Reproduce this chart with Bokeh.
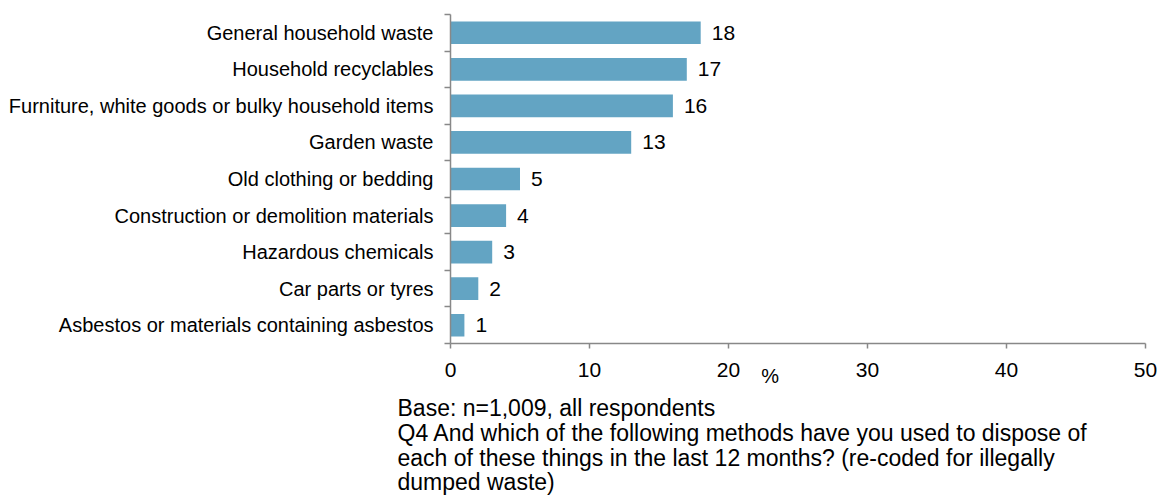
from bokeh.plotting import figure
from bokeh.models import Range1d, FixedTicker, ColumnDataSource, LinearAxis, Title
from bokeh.core.properties import value
from bokeh.embed import file_html
from bokeh.resources import INLINE

categories = [
    "General household waste",
    "Household recyclables",
    "Furniture, white goods or bulky household items",
    "Garden waste",
    "Old clothing or bedding",
    "Construction or demolition materials",
    "Hazardous chemicals",
    "Car parts or tyres",
    "Asbestos or materials containing asbestos",
]
values = [18, 17, 16, 13, 5, 4, 3, 2, 1]
x_ticks = [0, 10, 20, 30, 40, 50]
unit_label = "%"
footnote = [
    "Base: n=1,009, all respondents",
    "Q4 And which of the following methods have you used to dispose of",
    "each of these things in the last 12 months? (re-coded for illegally",
    "dumped waste)",
]

n = len(categories)
ypos = [n - 1 - i + 0.5 for i in range(n)]
src = ColumnDataSource(dict(y=ypos, v=values, lab=[str(v) for v in values]))

FONT = "Liberation Sans, Arial, sans-serif"
AXIS_COLOR = "#888888"

p = figure(width=1161, height=504, output_backend="svg", toolbar_location=None,
           x_range=Range1d(0, 50), y_range=Range1d(0, n),
           min_border_left=450, min_border_right=16, min_border_top=14,
           min_border_bottom=161)
p.outline_line_color = None
p.xgrid.visible = False
p.ygrid.visible = False

p.hbar(y="y", right="v", left=0, height=0.62, source=src,
       fill_color="#63a4c3", line_color=None)
p.text(x="v", y="y", text="lab", source=src, x_offset=11,
       text_baseline="middle", text_align="left",
       text_font=value(FONT), text_font_size="21px", text_color="#000000")

xa = p.xaxis[0]
xa.ticker = FixedTicker(ticks=x_ticks)
xa.axis_line_color = AXIS_COLOR
xa.axis_line_width = 1.5
xa.major_tick_line_color = AXIS_COLOR
xa.major_tick_line_width = 1.5
xa.major_tick_out = 5
xa.major_tick_in = 0
xa.minor_tick_line_color = None
xa.major_label_standoff = 14
xa.major_label_text_font = FONT
xa.major_label_text_font_size = "21px"
xa.major_label_text_color = "#000000"

# unit label "%" as a second, bare axis just under the first one
ua = LinearAxis(ticker=FixedTicker(ticks=[23.0]),
                major_label_overrides={23.0: unit_label})
ua.axis_line_color = None
ua.major_tick_line_color = None
ua.minor_tick_line_color = None
ua.major_tick_out = 0
ua.major_tick_in = 0
ua.major_label_standoff = -15
ua.major_label_text_font = FONT
ua.major_label_text_font_size = "20px"
ua.major_label_text_color = "#000000"
p.add_layout(ua, "below")

ya = p.yaxis[0]
ya.ticker = FixedTicker(ticks=ypos, minor_ticks=list(range(n + 1)))
ya.major_label_overrides = {y: c for y, c in zip(ypos, categories)}
ya.axis_line_color = AXIS_COLOR
ya.axis_line_width = 1.5
ya.major_tick_line_color = None
ya.major_tick_out = 0
ya.major_tick_in = 0
ya.minor_tick_line_color = AXIS_COLOR
ya.minor_tick_line_width = 1.5
ya.minor_tick_out = 6
ya.minor_tick_in = 0
ya.major_label_standoff = 11
ya.major_label_text_font = FONT
ya.major_label_text_font_size = "20px"
ya.major_label_text_color = "#000000"

note = Title(text="\n".join(footnote), align="left", offset=-53,
             text_font=FONT, text_font_size="23px", text_font_style="normal",
             text_color="#000000", standoff=8, text_line_height=0.95)
p.add_layout(note, "below")

open("out.html", "w").write(file_html(p, INLINE))
